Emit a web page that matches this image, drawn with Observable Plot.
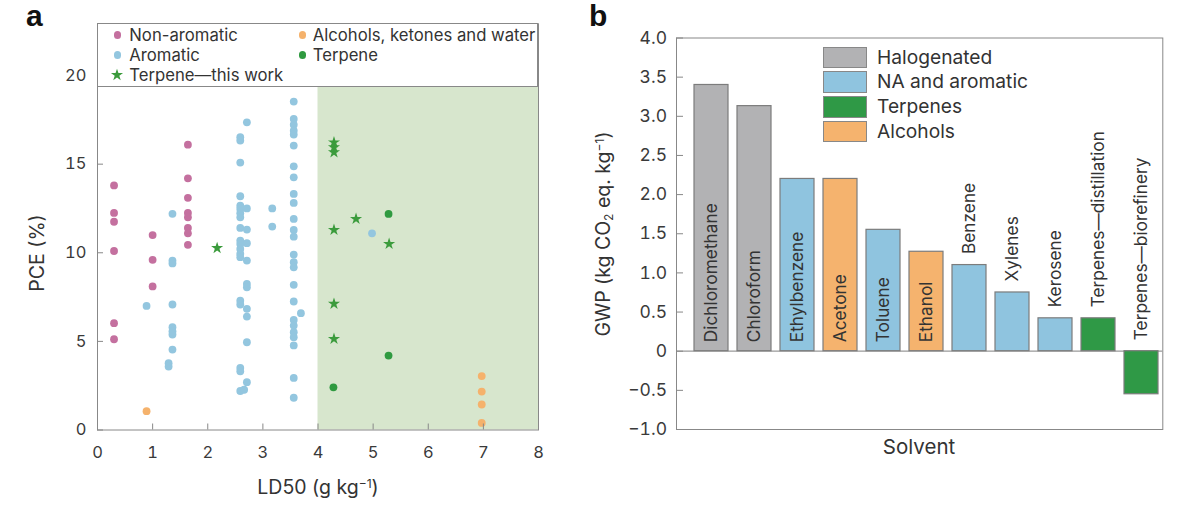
<!DOCTYPE html>
<html><head><meta charset="utf-8">
<script src="https://cdn.jsdelivr.net/npm/d3@7"></script>
<script src="https://cdn.jsdelivr.net/npm/@observablehq/plot@0.6"></script>
<style>
body{margin:0;background:#fff}
#root{position:relative;width:1200px;height:505px;overflow:hidden;font-family:Inter,"Noto Sans",sans-serif;color:#333;background:#fff}
.abs{position:absolute;white-space:nowrap;line-height:1}
.c{transform:translate(-50%,-50%)}
.cr{transform:translate(-50%,-50%) rotate(-90deg)}
.vm{transform:translateY(-50%)}
.lbl{font-family:"Liberation Sans",Arial,sans-serif;font-weight:bold;font-size:30px;color:#111}
sub,sup{font-size:0.62em;line-height:0}
sub{vertical-align:-0.25em}
sup{vertical-align:0.55em}
</style>
</head><body><div id="root"></div>
<script>
// ---------- Panel a data ----------
const xTicksA = [0, 1, 2, 3, 4, 5, 6, 7, 8];
const yTicksA = [0, 5, 10, 15, 20];
const categoriesA = ["Non-aromatic", "Alcohols, ketones and water", "Aromatic", "Terpene", "Terpene—this work"];
const colorsA = ["#c4709f", "#f5b26c", "#93c6df", "#2f9a40", "#3b9b3c"];
const nonAromatic = [
  [0.3, 13.8], [0.3, 12.25], [0.3, 11.75], [0.3, 10.1], [0.3, 6.03], [0.3, 5.12],
  [1.0, 11.0], [1.0, 9.6], [1.0, 8.1],
  [1.64, 16.1], [1.64, 14.2], [1.64, 13.1], [1.64, 12.25], [1.64, 12.0], [1.64, 11.4], [1.64, 11.1], [1.64, 10.45]
];
const aromatic = [
  [0.89, 7.0],
  [1.36, 12.2], [1.36, 9.56], [1.36, 9.4], [1.36, 7.08], [1.36, 5.8], [1.36, 5.57], [1.36, 5.39], [1.36, 4.54], [1.29, 3.77], [1.29, 3.58],
  [2.59, 16.52], [2.59, 16.33], [2.59, 15.09], [2.59, 13.19], [2.59, 12.66], [2.59, 12.47], [2.59, 12.23], [2.59, 12.0], [2.59, 11.4],
  [2.59, 10.69], [2.59, 10.5], [2.59, 10.22], [2.59, 9.94], [2.59, 9.75], [2.59, 7.3], [2.59, 7.08], [2.59, 3.5], [2.59, 3.31], [2.59, 2.2],
  [2.71, 17.36], [2.71, 12.5], [2.71, 11.31], [2.71, 10.54], [2.71, 9.56], [2.71, 8.24], [2.71, 8.05], [2.71, 6.84], [2.71, 6.4],
  [2.71, 4.95], [2.71, 2.7], [2.66, 2.27],
  [3.17, 12.5], [3.17, 11.48],
  [3.56, 18.53], [3.56, 17.55], [3.56, 17.23], [3.56, 16.89], [3.56, 16.67], [3.56, 16.05], [3.56, 14.88], [3.56, 14.26], [3.56, 13.32],
  [3.56, 12.81], [3.56, 11.91], [3.56, 11.29], [3.56, 10.91], [3.56, 9.9], [3.56, 9.47], [3.56, 9.18], [3.56, 8.19], [3.56, 7.25],
  [3.56, 6.21], [3.56, 5.89], [3.56, 5.52], [3.56, 5.24], [3.56, 4.77], [3.56, 2.94], [3.56, 1.82],
  [3.69, 6.59],
  [4.98, 11.1]
];
const alcoholsKetonesWater = [[0.89, 1.06], [6.97, 3.04], [6.97, 2.17], [6.97, 1.44], [6.97, 0.4]];
const terpene = [[5.28, 12.19], [5.28, 4.2], [4.28, 2.41]];
const terpeneThisWork = [[2.17, 10.27], [4.29, 16.23], [4.29, 15.95], [4.29, 15.67], [4.29, 11.29], [4.29, 7.12], [4.29, 5.14], [4.69, 11.91], [5.29, 10.5]];
const shadeLD50 = [{x1: 4, x2: 8}];
const yMaxA = 22.92;

// ---------- Panel b data ----------
const solvents = ["Dichloromethane", "Chloroform", "Ethylbenzene", "Acetone", "Toluene", "Ethanol", "Benzene", "Xylenes", "Kerosene", "Terpenes—distillation", "Terpenes—biorefinery"];
const gwp = [3.4, 3.13, 2.2, 2.2, 1.55, 1.27, 1.1, 0.75, 0.42, 0.42, -0.55];
const solventGroup = ["Halogenated", "Halogenated", "NA and aromatic", "Alcohols", "NA and aromatic", "Alcohols", "NA and aromatic", "NA and aromatic", "NA and aromatic", "Terpenes", "Terpenes"];
const groupsB = ["Halogenated", "NA and aromatic", "Terpenes", "Alcohols"];
const groupColorsB = ["#b2b2b4", "#8fc4df", "#2f9946", "#f5b36e"];
const yTicksB = [-1, -0.5, 0, 0.5, 1, 1.5, 2, 2.5, 3, 3.5, 4];

// ---------- build ----------
const root = document.getElementById("root");
const toRows = (arr, cat) => arr.map(([x, y]) => ({x, y, cat}));
const dotsA = [
  ...toRows(nonAromatic, "Non-aromatic"),
  ...toRows(aromatic, "Aromatic"),
  ...toRows(alcoholsKetonesWater, "Alcohols, ketones and water"),
  ...toRows(terpene, "Terpene")
];
const starsA = toRows(terpeneThisWork, "Terpene—this work");

const mA = {left: 97, right: 22, top: 23.3, bottom: 75.5};
const wA = 560, hA = 505;
const innerWA = wA - mA.left - mA.right, innerHA = hA - mA.top - mA.bottom;

const svgA = Plot.plot({
  width: wA, height: hA,
  marginLeft: mA.left, marginRight: mA.right, marginTop: mA.top, marginBottom: mA.bottom,
  x: {domain: [0, 8]},
  y: {domain: [0, yMaxA]},
  color: {domain: categoriesA, range: colorsA},
  style: {fontFamily: "Inter", fontSize: "16.5px", color: "#3a3a3a", background: "transparent", overflow: "visible"},
  marks: [
    Plot.rect(shadeLD50, {x1: "x1", x2: "x2", y1: 0, y2: yMaxA, fill: "#d7e6cd"}),
    Plot.dot(dotsA, {x: "x", y: "y", r: 3.9, fill: "cat"}),
    Plot.dot(starsA, {x: "x", y: "y", r: 3.8, symbol: "star", fill: "cat"}),
    Plot.tickY(yTicksA, {y: d => d, insetRight: innerWA - 6, stroke: "#888"}),
    Plot.tickX(xTicksA, {x: d => d, insetTop: innerHA - 6, stroke: "#888"}),
    Plot.axisY({ticks: yTicksA, tickSize: 0, tickPadding: 11, fontSize: 16.5, label: null}),
    Plot.axisX({ticks: xTicksA, tickSize: 0, tickPadding: 16, fontSize: 16.5, label: null}),
    Plot.frame({stroke: "#888"})
  ]
});
svgA.style.position = "absolute";
svgA.style.left = "0px";
svgA.style.top = "0px";
root.appendChild(svgA);

// panel b
const barsB = solvents.map((name, i) => ({name, value: gwp[i], group: solventGroup[i]}));
const wB = 640, hB = 505;
const mB = {left: 116, right: 37.7, top: 37.5, bottom: 76};
const innerWB = wB - mB.left - mB.right;
const fmtB = d => d === 0 ? "0" : d.toFixed(1).replace("-", "−");
const inside = d => d.value >= 1.2;

const svgB = Plot.plot({
  width: wB, height: hB,
  marginLeft: mB.left, marginRight: mB.right, marginTop: mB.top, marginBottom: mB.bottom,
  x: {domain: solvents, range: [124.7, 607.1], padding: 0.2, axis: null},
  y: {domain: [-1, 4]},
  color: {domain: groupsB, range: groupColorsB},
  style: {fontFamily: "Inter", fontSize: "17px", color: "#3a3a3a", background: "transparent", overflow: "visible"},
  marks: [
    Plot.ruleY([0], {stroke: "#999", strokeWidth: 1.2}),
    Plot.barY(barsB, {x: "name", y: "value", fill: "group", stroke: "#7c7c7c", strokeWidth: 1.2}),
    Plot.text(barsB.filter(inside), {x: "name", y: 0, text: "name", rotate: -90, textAnchor: "start", dy: -9, fill: "#333", fontSize: 17.3}),
    Plot.text(barsB.filter(d => !inside(d)), {x: "name", y: d => Math.max(0, d.value), text: "name", rotate: -90, textAnchor: "start", dy: -11, fill: "#333", fontSize: 17.3}),
    Plot.tickY(yTicksB, {y: d => d, insetRight: innerWB - 7, stroke: "#888"}),
    Plot.axisY({ticks: yTicksB, tickSize: 0, tickPadding: 9.5, tickFormat: fmtB, fontSize: 17.5, label: null}),
    Plot.frame({stroke: "#888"})
  ]
});
svgB.style.position = "absolute";
svgB.style.left = "560px";
svgB.style.top = "0px";
root.appendChild(svgB);

// ---------- HTML overlays: labels, titles, legends ----------
function add(html, cls, style) {
  const el = document.createElement("div");
  el.className = "abs " + cls;
  el.innerHTML = html;
  Object.assign(el.style, style);
  root.appendChild(el);
  return el;
}
add("a", "lbl", {left: "26px", top: "1px"});
add("b", "lbl", {left: "589px", top: "1px"});
add("PCE (%)", "cr", {left: "38px", top: "253px", fontSize: "19.5px", color: "#333"});
add("LD50 (g kg<sup>−1</sup>)", "c", {left: "318px", top: "488px", fontSize: "19.5px", color: "#333"});
add("GWP (kg CO<sub>2</sub> eq. kg<sup>−1</sup>)", "cr", {left: "604px", top: "234px", fontSize: "19.5px", color: "#333"});
add("Solvent", "c", {left: "919px", top: "447px", fontSize: "20.5px", color: "#333"});

// legend a box
add("", "", {left: mA.left + "px", top: mA.top + "px", width: innerWA + "px", height: "63.4px", boxSizing: "border-box", border: "1px solid #888", background: "#fff"});
const legA = [
  {cat: "Non-aromatic", col: 0, row: 0},
  {cat: "Aromatic", col: 0, row: 1},
  {cat: "Terpene—this work", col: 0, row: 2},
  {cat: "Alcohols, ketones and water", col: 1, row: 0},
  {cat: "Terpene", col: 1, row: 1}
];
const colX = [[117.3, 129.3], [302.3, 312.7]];
const rowY = [35, 55, 75];
legA.forEach(({cat, col, row}) => {
  const color = colorsA[categoriesA.indexOf(cat)];
  const [mx, tx] = colX[col];
  const y = rowY[row];
  if (cat === "Terpene—this work") {
    const path = d3.symbol(d3.symbolStar, 3.8 * 3.8 * Math.PI)();
    add(`<svg width="16" height="16" viewBox="-8 -8 16 16"><path d="${path}" fill="${color}"/></svg>`, "", {left: (mx - 8) + "px", top: (y - 8) + "px"});
  } else {
    add("", "", {left: (mx - 3.7) + "px", top: (y - 3.7) + "px", width: "7.4px", height: "7.4px", borderRadius: "50%", background: color});
  }
  add(cat, "vm", {left: tx + "px", top: y + "px", fontSize: "16.7px", color: "#333"});
});

// legend b
const swTop = [46.7, 71.3, 96, 120.7];
groupsB.forEach((g, i) => {
  add("", "", {left: "823px", top: swTop[i] + "px", width: "44px", height: "21.5px", boxSizing: "border-box", border: "1px solid #888", background: groupColorsB[i]});
  add(g, "vm", {left: "877px", top: (swTop[i] + 11) + "px", fontSize: "19.2px", color: "#333"});
});
</script></body></html>
